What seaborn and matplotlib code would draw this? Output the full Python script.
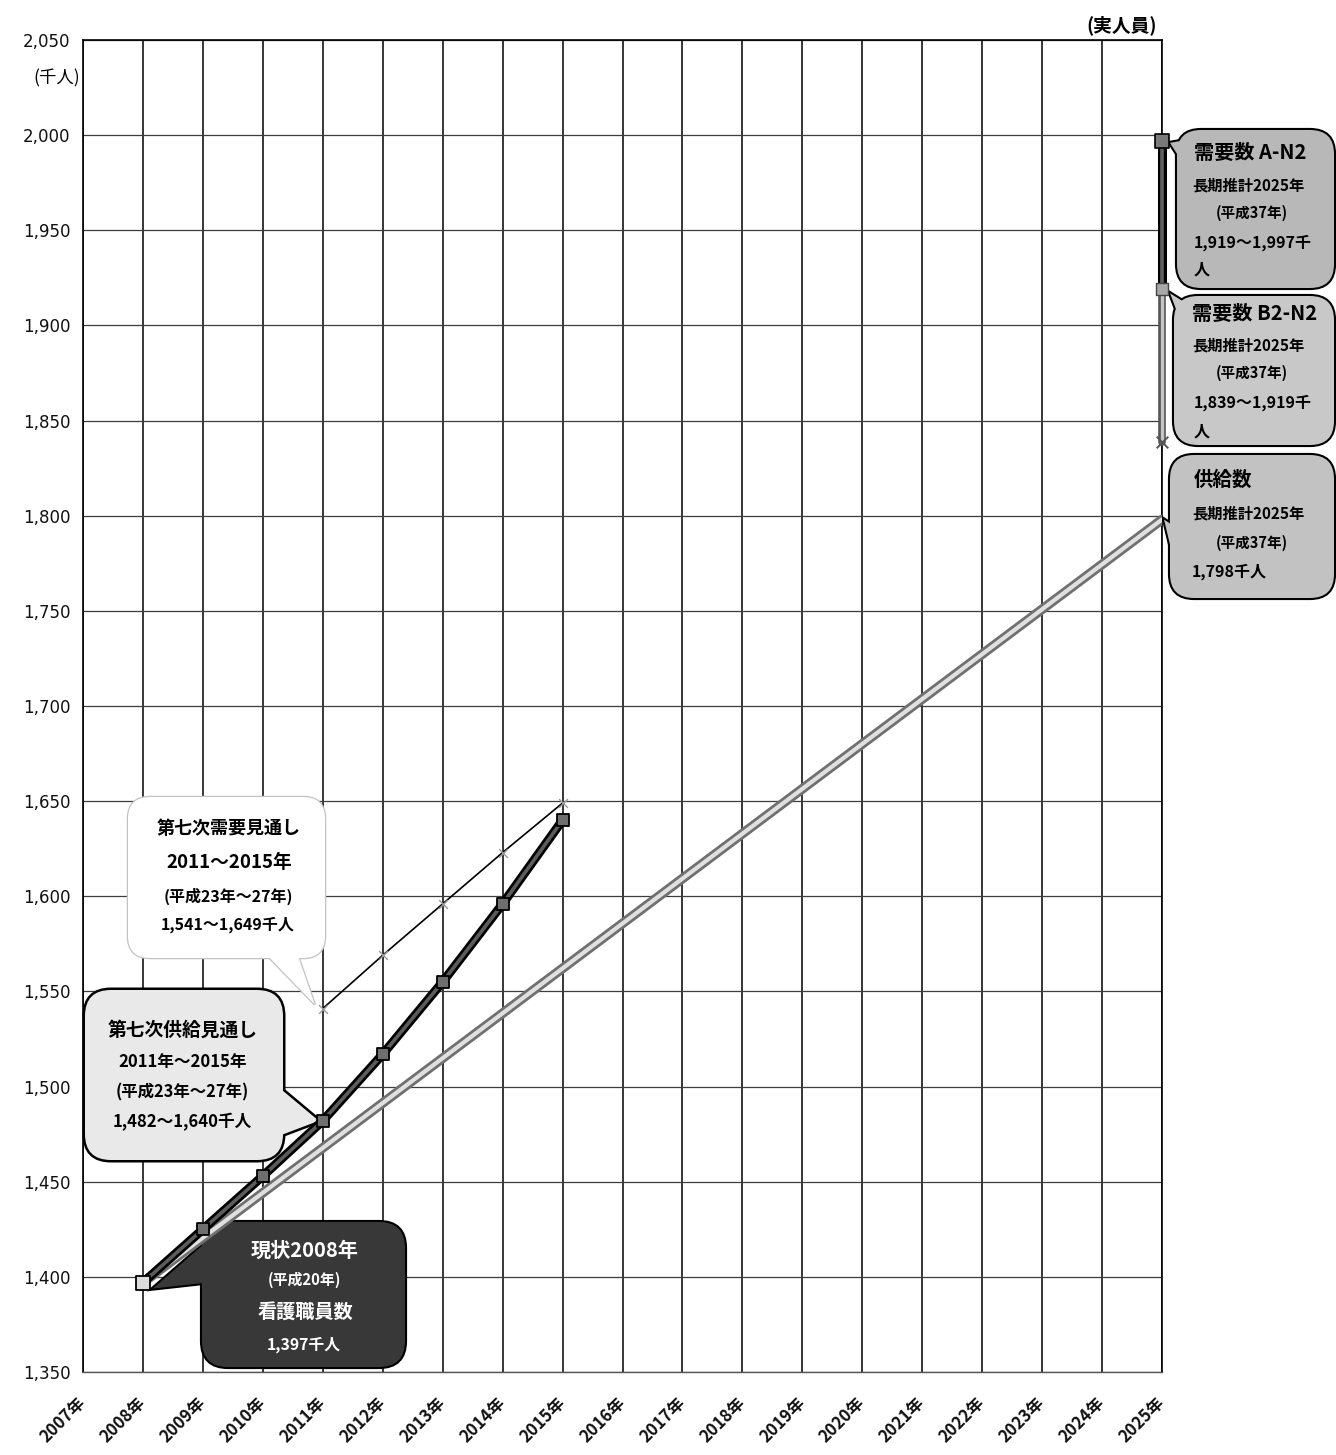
import matplotlib
matplotlib.use("Agg")
import matplotlib.pyplot as plt
import matplotlib.patheffects as pe
from matplotlib.patches import FancyBboxPatch, Polygon
import numpy as np
import pandas as pd
import seaborn as sns

# ---- data (千人, 実人員) ----
axis_years = list(range(2007, 2026))
year_labels = [f"{y}年" for y in axis_years]
y_ticks = list(range(1350, 2051, 50))

# 第七次供給見通し (現状2008年から)
supply7_years = [2008, 2009, 2010, 2011, 2012, 2013, 2014, 2015]
supply7_values = [1397, 1425, 1453, 1482, 1517, 1555, 1596, 1640]

# 第七次需要見通し
demand7_years = [2011, 2012, 2013, 2014, 2015]
demand7_values = [1541, 1569, 1596, 1623, 1649]

# 供給数 長期推計
supply_long_years = [2008, 2025]
supply_long_values = [1397, 1798]

# 需要数 長期推計 2025年
demand_a_years = [2025, 2025]
demand_a_values = [1997, 1919]
demand_b_years = [2025, 2025]
demand_b_values = [1919, 1839]

# ---- style ----
sns.set_theme(style="white")
plt.rcParams["font.family"] = ["Noto Sans CJK JP", "DejaVu Sans"]
plt.rcParams["axes.unicode_minus"] = False

W_PX, H_PX = 1336, 1455
fig = plt.figure(figsize=(W_PX / 100, H_PX / 100), dpi=100)
ax = fig.add_axes([83 / W_PX, 1 - 1372 / H_PX, (1162 - 83) / W_PX, (1372 - 40) / H_PX])
ax.set_xlim(2007, 2025)
ax.set_ylim(1350, 2050)

# grid
ax.set_xticks(axis_years)
ax.set_xticklabels(year_labels, rotation=45, ha="right", va="center",
                   rotation_mode="anchor", fontsize=12, fontweight="bold",
                   color="#111111")
ax.set_yticks(y_ticks)
ax.set_yticklabels([f"{v:,}" for v in y_ticks], fontsize=12,
                   family=["DejaVu Sans"], color="#111111")
ax.tick_params(axis="x", length=0, pad=20)
ax.tick_params(axis="y", length=0, pad=9)
for x in axis_years:
    ax.axvline(x, color="black", lw=1.1, zorder=1)
for y in y_ticks:
    ax.axhline(y, color="#3c3c3c", lw=0.9, zorder=1)
for side in ["left", "top", "right"]:
    ax.spines[side].set_color("black")
    ax.spines[side].set_linewidth(1.2)
ax.spines["bottom"].set_color("#555555")
ax.spines["bottom"].set_linewidth(1.0)

# ---- series ----
df_long = pd.DataFrame({"year": supply_long_years, "value": supply_long_values})
sns.lineplot(data=df_long, x="year", y="value", ax=ax, color="#e0e0e0", lw=3.0,
             zorder=3, path_effects=[pe.Stroke(linewidth=7.0, foreground="#707070"), pe.Normal()])
sns.scatterplot(x=supply_long_years[:1], y=supply_long_values[:1], ax=ax, marker="s", s=90,
                color="#dcdcdc", edgecolor="black", linewidth=1.3, zorder=5.5)

df_s7 = pd.DataFrame({"year": supply7_years, "value": supply7_values})
sns.lineplot(data=df_s7, x="year", y="value", ax=ax, color="#5c5c5c", lw=2.6,
             zorder=4, path_effects=[pe.Stroke(linewidth=6.5, foreground="black"), pe.Normal()])
sns.scatterplot(x=supply7_years[1:], y=supply7_values[1:], ax=ax, marker="s", s=80,
                color="#6e6e6e", edgecolor="black", linewidth=1.3, zorder=5)

df_d7 = pd.DataFrame({"year": demand7_years, "value": demand7_values})
sns.lineplot(data=df_d7, x="year", y="value", ax=ax, color="black", lw=1.2, zorder=4.5)
sns.scatterplot(data=df_d7, x="year", y="value", ax=ax, marker="x", s=40,
                color="#9a9a9a", linewidth=1.0, zorder=5)

df_a = pd.DataFrame({"year": demand_a_years, "value": demand_a_values})
df_b = pd.DataFrame({"year": demand_b_years, "value": demand_b_values})
sns.lineplot(data=df_b, x="year", y="value", ax=ax, color="#c4c4c4", lw=2.4, zorder=4,
             clip_on=False, estimator=None,
             path_effects=[pe.Stroke(linewidth=5.5, foreground="#555555"), pe.Normal()])
sns.lineplot(data=df_a, x="year", y="value", ax=ax, color="#606060", lw=2.6, zorder=4.2,
             clip_on=False, estimator=None,
             path_effects=[pe.Stroke(linewidth=6.5, foreground="black"), pe.Normal()])
sns.scatterplot(x=demand_a_years[:1], y=demand_a_values[:1], ax=ax, marker="s", s=90,
                color="#7a7a7a", edgecolor="black", linewidth=1.2, zorder=6, clip_on=False)
sns.scatterplot(x=demand_b_years[:1], y=demand_b_values[:1], ax=ax, marker="s", s=70,
                color="#a8a8a8", edgecolor="#444444", linewidth=1.0, zorder=6, clip_on=False)
sns.scatterplot(x=demand_b_years[1:], y=demand_b_values[1:], ax=ax, marker="x", s=70,
                color="#555555", linewidth=1.4, zorder=6, clip_on=False)
ax.set_xlabel("")
ax.set_ylabel("")

# ---- callouts (box geometry in pixels, tip at a data point) ----
tr = fig.dpi_scale_trans


def px(x, y):
    return (x / 100, (H_PX - y) / 100)


def data_to_in(x, y, dx=0, dy=0):
    disp = ax.transData.transform((x, y))
    inch = tr.inverted().transform(disp)
    return (inch[0] + dx / 100, inch[1] - dy / 100)


def callout(box, base, tip, fc, ec, lw, radius, z=2.5):
    x0, y0, x1, y1 = box
    bl = px(x0, y1)
    w, h = (x1 - x0) / 100, (y1 - y0) / 100
    for stage in (0, 1):
        if stage == 0:
            kw = dict(fc=ec, ec=ec, lw=2 * lw, zorder=z)
        else:
            kw = dict(fc=fc, ec="none", lw=0, zorder=z + 0.01)
        ax.add_patch(FancyBboxPatch(bl, w, h, boxstyle=f"round,pad=0,rounding_size={radius / 100}",
                                    transform=tr, clip_on=False, **kw))
        ax.add_patch(Polygon([px(*base[0]), px(*base[1]), tip], closed=True,
                             transform=tr, clip_on=False, **kw))


def lines(items, color="black", z=7):
    for text, x, y, size, ha in items:
        ax.text(*px(x, y), text, transform=tr, ha=ha, va="center", fontsize=size,
                fontweight="bold", color=color, zorder=z, clip_on=False)


# 第七次需要見通し
callout((128, 797, 325, 958), [(262, 950), (296, 950)],
        data_to_in(demand7_years[0], demand7_values[0], dx=-8, dy=-4),
        fc="white", ec="#c2c2c2", lw=0.9, radius=22)
lines([("第七次需要見通し", 229, 828, 13, "center"),
       ("2011～2015年", 229, 862, 13.5, "center"),
       ("(平成23年～27年)", 228, 896, 11.5, "center"),
       ("1,541～1,649千人", 228, 925, 11.5, "center")])

# 第七次供給見通し
callout((85, 990, 283, 1160), [(276, 1085), (276, 1137)],
        data_to_in(supply7_years[3], supply7_values[3], dx=-4),
        fc="#e9e9e9", ec="black", lw=1.8, radius=26)
lines([("第七次供給見通し", 183, 1030, 13.5, "center"),
       ("2011年～2015年", 183, 1062, 12, "center"),
       ("(平成23年～27年)", 182, 1092, 11.8, "center"),
       ("1,482～1,640千人", 182, 1122, 12, "center")])

# 現状2008年
callout((202, 1222, 405, 1367), [(212, 1237), (212, 1282)],
        data_to_in(supply7_years[0], supply7_values[0], dx=10, dy=6),
        fc="#383838", ec="black", lw=1.5, radius=26)
lines([("現状2008年", 305, 1250, 14.5, "center"),
       ("(平成20年)", 304, 1280, 10.7, "center"),
       ("看護職員数", 305, 1312, 13.8, "center"),
       ("1,397千人", 304, 1345, 11.4, "center")], color="white")

# 需要数 A-N2
callout((1177, 130, 1334, 288), [(1186, 140), (1186, 168)],
        data_to_in(demand_a_years[0], demand_a_values[0], dx=8, dy=2),
        fc="#b8b8b8", ec="black", lw=1.5, radius=24)
lines([("需要数 A-N2", 1194, 152, 14.5, "left"),
       ("長期推計2025年", 1192, 185, 11, "left"),
       ("(平成37年)", 1252, 213, 10.5, "center"),
       ("1,919～1,997千", 1194, 243, 11.5, "left"),
       ("人", 1194, 270, 11.5, "left")])

# 需要数 B2-N2
callout((1174, 296, 1334, 445), [(1184, 302), (1184, 330)],
        data_to_in(demand_b_years[0], demand_b_values[0], dx=8, dy=4),
        fc="#c8c8c8", ec="black", lw=1.5, radius=24)
lines([("需要数 B2-N2", 1192, 313, 14.5, "left"),
       ("長期推計2025年", 1192, 345, 11, "left"),
       ("(平成37年)", 1252, 373, 10.5, "center"),
       ("1,839～1,919千", 1194, 403, 11.5, "left"),
       ("人", 1194, 432, 11.5, "left")])

# 供給数
callout((1170, 455, 1334, 598), [(1180, 530), (1180, 586)],
        data_to_in(supply_long_years[1], supply_long_values[1], dx=2),
        fc="#c2c2c2", ec="black", lw=1.5, radius=24)
lines([("供給数", 1194, 480, 14, "left"),
       ("長期推計2025年", 1192, 513, 11, "left"),
       ("(平成37年)", 1252, 543, 10.5, "center"),
       ("1,798千人", 1192, 572, 11.5, "left")])

# unit labels
fig.text(*px(33, 78), "(千人)", transform=tr, ha="left", va="center",
         fontsize=12.5, color="black")
fig.text(*px(1086, 25), "(実人員)", transform=tr, ha="left", va="center",
         fontsize=13.5, fontweight="bold", color="black")

fig.savefig("out.png", dpi=100)
